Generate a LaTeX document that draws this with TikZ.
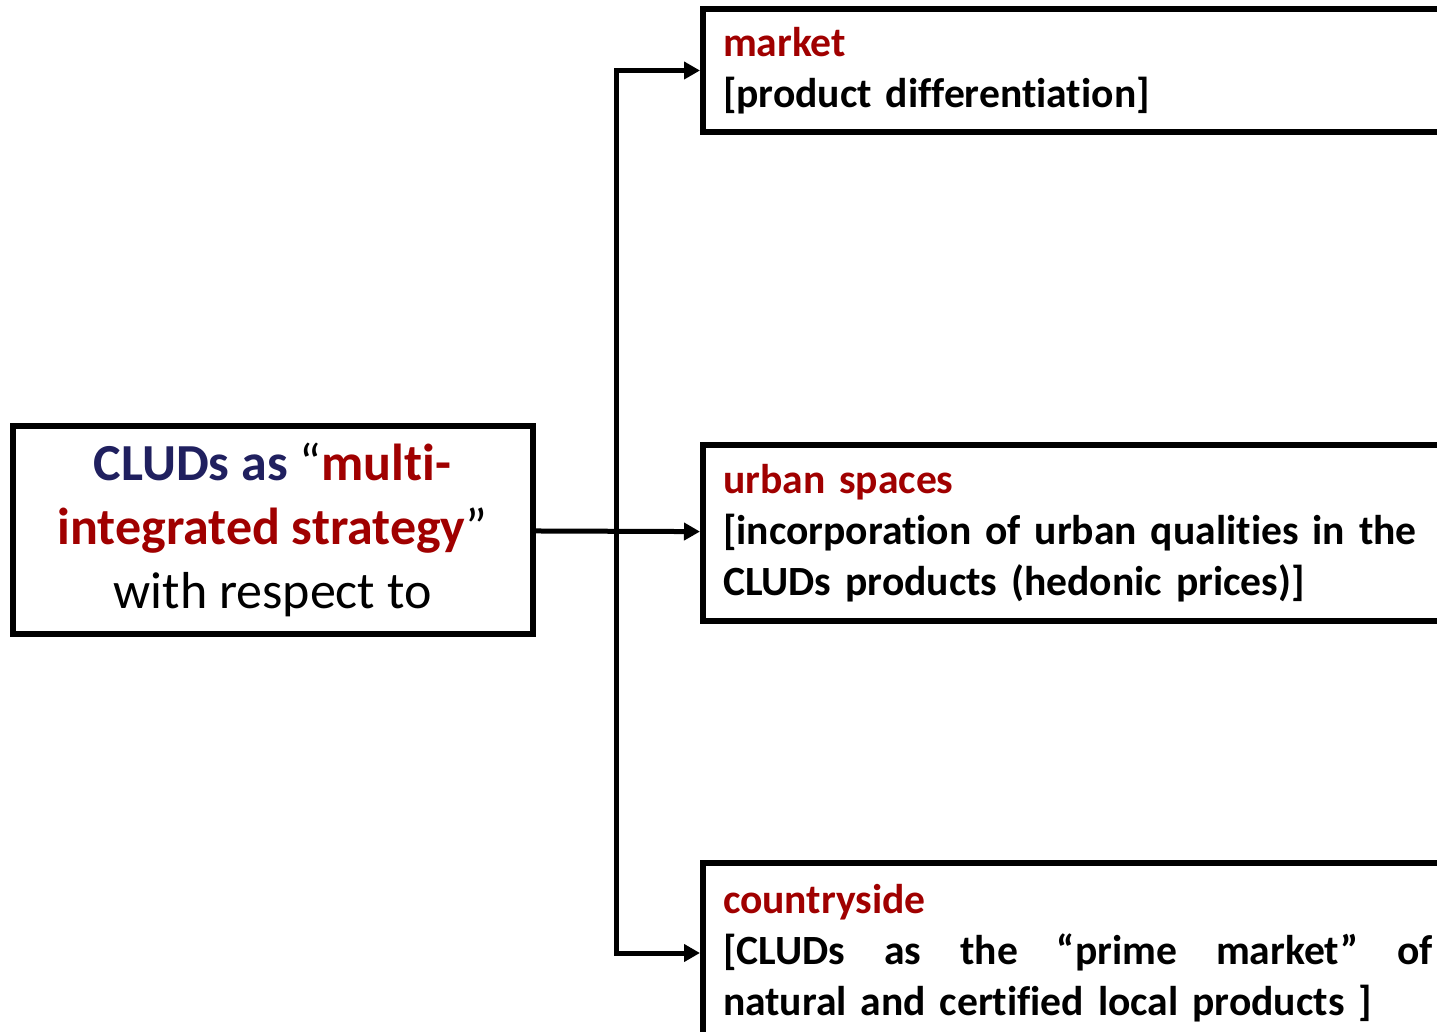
\documentclass[tikz,border=0pt]{standalone}
\usepackage{fontspec}
\setmainfont{Carlito}[Ligatures=NoCommon]
\usepackage{xcolor}
\usetikzlibrary{arrows.meta}

\definecolor{navyText}{HTML}{20205F}
\definecolor{redText}{HTML}{A00000}

\tikzset{
  boxline/.style={draw, line width=3pt},
  sidebox/.style={boxline, anchor=north west, text width=355pt, inner xsep=10pt,
                  align=left, font=\fontsize{20.8}{25.5}\selectfont\bfseries},
  link/.style={line width=2.5pt, -{Triangle[length=8pt,width=8.5pt]}}
}

\begin{document}
\begin{tikzpicture}[x=0.5pt,y=-0.5pt]
  \useasboundingbox (0,0) rectangle (1437,1032);
  \clip (0,0) rectangle (1437,1032);

  %% Strategy box on the left
  \node[boxline, minimum width=260pt, minimum height=104pt, align=center,
        font=\fontsize{26}{32}\selectfont] (strategy) at (272.5,530)
    {\textbf{\textcolor{navyText}{CLUDs as}} “\textbf{\textcolor{redText}{multi-}}\\
     \textbf{\textcolor{redText}{integrated strategy}}”\\
     with respect to};

  %% Boxes on the right, running past the page edge
  \node[sidebox, minimum height=61.5pt] (market) at (700,6)
    {\textcolor{redText}{market}\\
     {[}product differentiation]};
  \node[sidebox, minimum height=88pt] (urban) at (700,442)
    {\textcolor{redText}{urban spaces}\\
     {[}incorporation of urban qualities in the\\
     CLUDs products (hedonic prices)]};
  \node[sidebox, minimum height=90pt] (country) at (700,860)
    {\textcolor{redText}{countryside}\\
     \makebox[355pt][l]{[CLUDs\hfill as\hfill the\hfill “prime\hfill market”\hfill of}\\
     natural and certified local products ]};

  %% Branching connectors
  \coordinate (split) at (616,530);
  \draw[link] (strategy) -- (urban);
  \draw[link, line join=miter] (split) |- (market.west);
  \draw[link, line join=miter] (split) |- (country.west);
\end{tikzpicture}
\end{document}
